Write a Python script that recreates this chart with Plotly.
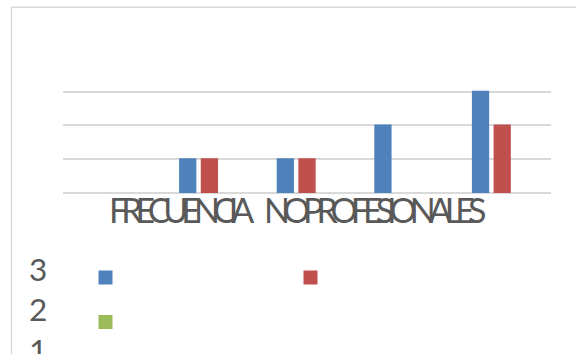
import plotly.graph_objects as go

# ---- data (None = empty cell, no bar drawn) ---------------------------
categories = ["1", "2", "3", "4", "5"]
serie1 = [None, 1, 1, 2, 3]
serie2 = [None, 1, 1, None, 2]
serie3 = [None, None, None, None, None]
side_labels = ["3", "2", "1"]
title_words = ["FRECUENCIA", "NOPROFESIONALES"]

# ---- canvas geometry (pixels) ----------------------------------------
W, H = 576, 354
Y_TOP = 3.05                      # a little headroom so the top gridline is kept
BASE_PX, TOP_GRID_PX = 193.3, 92  # pixel rows of value 0 and value 3
unit = (BASE_PX - TOP_GRID_PX) / 3
L, R = 63, 25
plot_h = Y_TOP * unit
T = BASE_PX - plot_h
B = H - BASE_PX
plot_w = W - L - R


def px_x(px):
    return (px - L) / plot_w


def px_y(py):
    return (BASE_PX - py) / plot_h


BLUE, RED, GREEN = "#4F81BD", "#C0504D", "#9BBB59"
GRID = "#D9D9D9"
TEXT = "#595959"

fig = go.Figure()
for vals, col in ((serie1, BLUE), (serie2, RED), (serie3, GREEN)):
    fig.add_trace(go.Bar(
        x=categories, y=vals, name=" ",
        marker=dict(color=col, line=dict(width=2, color=col)),
        hoverinfo="skip",
    ))

squeeze = '<span style="letter-spacing:-7px">{}</span>'
title_html = (squeeze.format(title_words[0])
              + '<span style="letter-spacing:8px"> </span>'
              + squeeze.format(title_words[1]))

annotations = [dict(
    text=title_html,
    xref="paper", yref="paper",
    x=px_x(296.5), y=px_y(209.8),
    xanchor="center", yanchor="middle",
    showarrow=False,
    font=dict(family="Lato, sans-serif", size=34, color=TEXT),
)]
for i, lab in enumerate(side_labels):
    annotations.append(dict(
        text=lab, xref="paper", yref="paper",
        x=px_x(37.5), y=px_y(268.8 + i * 40.5),
        xanchor="center", yanchor="middle", showarrow=False,
        font=dict(family="Lato, sans-serif", size=31.5, color=TEXT),
    ))

fig.update_layout(
    template="none",
    width=W, height=H,
    margin=dict(l=L, r=R, t=T, b=B, pad=0, autoexpand=False),
    paper_bgcolor="white", plot_bgcolor="white",
    barmode="group", bargap=0.334, bargroupgap=0.295,
    showlegend=True,
    legend=dict(
        orientation="h",
        x=px_x(85.5), y=px_y(250.5),
        xanchor="left", yanchor="top",
        entrywidth=160, entrywidthmode="pixels",
        font=dict(family="Lato, sans-serif", size=32, color=TEXT),
        bgcolor="rgba(0,0,0,0)", borderwidth=0,
        traceorder="normal",
    ),
    xaxis=dict(
        showticklabels=False, showgrid=False, zeroline=False,
        showline=False, ticks="",
    ),
    yaxis=dict(
        range=[0, Y_TOP], tickvals=[1, 2, 3], showticklabels=False, ticks="",
        showgrid=True, gridcolor=GRID, gridwidth=1.5,
        zeroline=True, zerolinecolor=GRID, zerolinewidth=1.5,
        showline=False,
    ),
    shapes=[dict(
        type="rect", xref="paper", yref="paper", layer="below",
        x0=px_x(11.5), y0=px_y(7.5), x1=px_x(W + 20), y1=px_y(H + 20),
        line=dict(color=GRID, width=1.5), fillcolor="rgba(0,0,0,0)",
    )],
    annotations=annotations,
)

fig.write_html("out.html")
